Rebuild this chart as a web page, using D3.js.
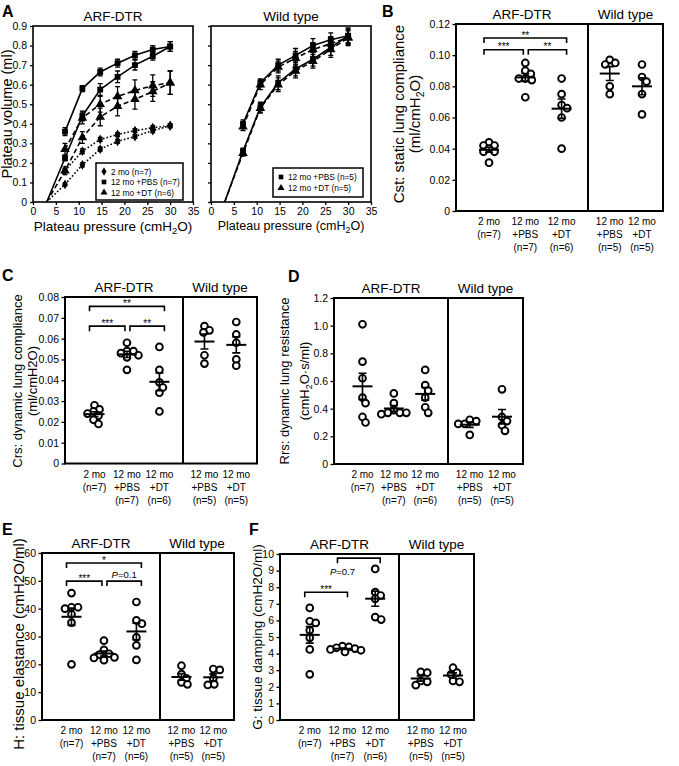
<!DOCTYPE html>
<html><head><meta charset="utf-8">
<script src="https://cdn.jsdelivr.net/npm/d3@7"></script>
<style>
body{margin:0;background:#fff}
svg{display:block}
text{font-family:"Liberation Sans",Arial,Helvetica,sans-serif;fill:#000}
</style>
</head><body>
<svg id="fig" width="679" height="766"></svg>
<script>
// ================= DATA =================
// Panel A: pressure-volume curves
const pvPressure = [7, 10.8, 14.7, 18.5, 22.3, 26.2, 30];
const pvOriginPressure = 3;
const pvTicksX = [0, 5, 10, 15, 20, 25, 30, 35];
const pvTicksY = [0, 0.1, 0.2, 0.3, 0.4, 0.5, 0.6, 0.7, 0.8, 0.9];

const arfMo2Defl     = [0.16, 0.26, 0.32, 0.345, 0.365, 0.38, 0.39];
const arfMo2DeflSem  = [0.01, 0.012, 0.01, 0.01, 0.01, 0.01, 0.01];
const arfMo2Infl     = [0.09, 0.19, 0.27, 0.31, 0.335, 0.365, 0.39];
const arfMo2InflSem  = [0.008, 0.01, 0.01, 0.01, 0.01, 0.01, 0.01];
const arfPbsDefl     = [0.36, 0.58, 0.665, 0.71, 0.75, 0.78, 0.795];
const arfPbsDeflSem  = [0.02, 0.015, 0.02, 0.02, 0.02, 0.02, 0.025];
const arfPbsInfl     = [0.225, 0.44, 0.575, 0.64, 0.70, 0.745, 0.795];
const arfPbsInflSem  = [0.015, 0.025, 0.03, 0.03, 0.025, 0.02, 0.025];
const arfDtDefl      = [0.27, 0.43, 0.50, 0.54, 0.57, 0.595, 0.61];
const arfDtDeflSem   = [0.03, 0.03, 0.04, 0.05, 0.055, 0.055, 0.06];
const arfDtInfl      = [0.16, 0.33, 0.435, 0.49, 0.525, 0.565, 0.61];
const arfDtInflSem   = [0.02, 0.03, 0.045, 0.05, 0.05, 0.05, 0.06];

const wtPbsDefl      = [0.40, 0.61, 0.70, 0.75, 0.80, 0.83, 0.85];
const wtPbsDeflSem   = [0.02, 0.02, 0.03, 0.035, 0.035, 0.035, 0.035];
const wtPbsInfl      = [0.26, 0.485, 0.61, 0.68, 0.73, 0.79, 0.85];
const wtPbsInflSem   = [0.015, 0.025, 0.035, 0.035, 0.035, 0.04, 0.04];
const wtDtDefl       = [0.385, 0.60, 0.69, 0.735, 0.78, 0.81, 0.84];
const wtDtDeflSem    = [0.02, 0.025, 0.03, 0.035, 0.035, 0.035, 0.035];
const wtDtInfl       = [0.25, 0.48, 0.60, 0.67, 0.72, 0.78, 0.84];
const wtDtInflSem    = [0.015, 0.025, 0.035, 0.035, 0.035, 0.04, 0.04];

const arfLegend = ["2 mo (n=7)", "12 mo +PBS (n=7)", "12 mo +DT (n=6)"];
const wtLegend  = ["12 mo +PBS (n=5)", "12 mo +DT (n=5)"];

// Panels B-F: groups
const groupKeys = ["arf2mo", "arfPbs", "arfDt", "wtPbs", "wtDt"];
const groupLabels = [["2 mo", "(n=7)"], ["12 mo", "+PBS", "(n=7)"], ["12 mo", "+DT", "(n=6)"],
                     ["12 mo", "+PBS", "(n=5)"], ["12 mo", "+DT", "(n=5)"]];
const sectionTitles = ["ARF-DTR", "Wild type"];

const cstValues = [
  [0.044, 0.042, 0.042, 0.040, 0.038, 0.038, 0.031],
  [0.095, 0.090, 0.088, 0.085, 0.085, 0.084, 0.073],
  [0.085, 0.075, 0.068, 0.066, 0.060, 0.040],
  [0.097, 0.095, 0.094, 0.080, 0.075],
  [0.094, 0.086, 0.083, 0.075, 0.062]];
const cstTicks = [0, 0.02, 0.04, 0.06, 0.08, 0.10, 0.12];

const crsValues = [
  [0.028, 0.026, 0.025, 0.024, 0.023, 0.021, 0.019],
  [0.058, 0.054, 0.054, 0.053, 0.052, 0.051, 0.045],
  [0.056, 0.045, 0.039, 0.0365, 0.034, 0.025],
  [0.066, 0.064, 0.063, 0.052, 0.048],
  [0.068, 0.062, 0.058, 0.050, 0.047]];
const crsTicks = [0, 0.01, 0.02, 0.03, 0.04, 0.05, 0.06, 0.07, 0.08];

const rrsValues = [
  [1.01, 0.74, 0.62, 0.48, 0.44, 0.34, 0.30],
  [0.51, 0.44, 0.39, 0.37, 0.37, 0.37, 0.36],
  [0.68, 0.57, 0.53, 0.48, 0.41, 0.37],
  [0.32, 0.31, 0.29, 0.29, 0.21],
  [0.54, 0.34, 0.31, 0.28, 0.24]];
const rrsTicks = [0, 0.2, 0.4, 0.6, 0.8, 1.0, 1.2];

const hValues = [
  [45.6, 40.5, 40.5, 40.0, 38.0, 35.0, 20.0],
  [28.5, 25.2, 23.8, 23.5, 22.5, 22.3, 21.5],
  [42.4, 35.8, 34.6, 29.7, 26.8, 21.6],
  [19.5, 16.5, 15.0, 13.5, 12.8],
  [18.3, 18.0, 15.0, 12.8, 12.6]];
const hTicks = [0, 10, 20, 30, 40, 50, 60];

const gValues = [
  [6.75, 5.95, 5.85, 5.4, 4.95, 4.25, 2.75],
  [4.45, 4.4, 4.35, 4.3, 4.25, 4.2, 4.1],
  [9.1, 7.7, 7.5, 7.3, 6.2, 6.05],
  [2.9, 2.85, 2.35, 2.3, 2.1],
  [3.15, 2.85, 2.75, 2.35, 2.3]];
const gTicks = [0, 1, 2, 3, 4, 5, 6, 7, 8, 9, 10];

// significance comparisons: [groupA, groupB, level (y units), label]
const cstSig = [[0, 2, 0.111, "**"], [0, 1, 0.1035, "***"], [1, 2, 0.1035, "**"]];
const crsSig = [[0, 2, 0.0755, "**"], [0, 1, 0.066, "***"], [1, 2, 0.066, "**"]];
const rrsSig = [];
const hSig   = [[0, 2, 56.4, "*"], [0, 1, 49.9, "***"], [1, 2, 49.9, "P=0.1"]];
const gSig   = [[0, 1, 7.7, "***"], [1, 2, 9.75, "P=0.7"]];

// ================= DRAWING =================
const svg = d3.select("#fig");

function rich(sel, str, fs) {
  // "_2" marks a subscript 2
  const parts = str.split("_2");
  parts.forEach((p, i) => {
    if (i > 0) {
      sel.append("tspan").attr("font-size", fs * 0.7).attr("dy", fs * 0.25).text("2");
      sel.append("tspan").attr("dy", -fs * 0.25).text(p);
    } else sel.append("tspan").text(p);
  });
}
function label(x, y, str, fs, opts = {}) {
  const t = svg.append("text").attr("x", x).attr("y", y).attr("font-size", fs)
    .attr("fill", "#000").attr("text-anchor", opts.anchor || "middle");
  if (opts.bold) t.attr("font-weight", "bold");
  if (opts.rotate) t.attr("transform", `rotate(-90,${x},${y})`);
  rich(t, str, fs);
  return t;
}
function styleAxis(g, fs) {
  g.select(".domain").remove();
  g.selectAll(".tick line").attr("stroke", "#000").attr("stroke-width", 1.3);
  g.selectAll(".tick text").attr("font-size", fs).attr("fill", "#000")
    .attr("font-family", '"Liberation Sans",Arial,sans-serif');
}

// ---------- Panel A ----------
const symSquare = d3.symbol().type(d3.symbolSquare).size(34);
const symTri = d3.symbol().type(d3.symbolTriangle).size(40);
const symDiamond = d3.symbol().type(d3.symbolDiamond).size(28);

function drawPV(cfg) {
  const g = svg.append("g");
  const x = d3.scaleLinear().domain([0, 35]).range([cfg.left, cfg.right]);
  const y = d3.scaleLinear().domain([0, 0.9]).range([cfg.bottom, cfg.top]);
  const ax = g.append("g").attr("transform", `translate(0,${cfg.bottom})`)
    .call(d3.axisBottom(x).tickValues(pvTicksX).tickSize(3).tickPadding(3).tickFormat(d3.format("d")));
  styleAxis(ax, 10.5);
  const ay = g.append("g").attr("transform", `translate(${cfg.left},0)`)
    .call(d3.axisLeft(y).tickValues(pvTicksY).tickSize(3).tickPadding(3)
      .tickFormat(cfg.yLabels ? (d => d === 0 ? "0" : d3.format(".1f")(d)) : ""));
  styleAxis(ay, 10.5);

  const line = d3.line().x(d => x(d[0])).y(d => y(d[1]));
  cfg.series.forEach(s => {
    const infl = [[pvOriginPressure, 0]].concat(pvPressure.map((p, i) => [p, s.infl[i]]));
    const defl = pvPressure.map((p, i) => [p, s.defl[i]]);
    [infl, defl].forEach(pts => {
      g.append("path").attr("d", line(pts)).attr("fill", "none").attr("stroke", "#000")
        .attr("stroke-width", 1.6).attr("stroke-dasharray", s.dash);
    });
    [[s.infl, s.inflSem], [s.defl, s.deflSem]].forEach(([vals, sem]) => {
      pvPressure.forEach((p, i) => {
        const cx = x(p), y1 = y(vals[i] + sem[i]), y2 = y(vals[i] - sem[i]);
        g.append("path").attr("d", `M${cx},${y1}V${y2}M${cx - 2.5},${y1}H${cx + 2.5}M${cx - 2.5},${y2}H${cx + 2.5}`)
          .attr("stroke", "#000").attr("stroke-width", 1.3).attr("fill", "none");
      });
      pvPressure.forEach((p, i) => {
        g.append("path").attr("d", s.sym()).attr("transform", `translate(${x(p)},${y(vals[i])})`).attr("fill", "#000");
      });
    });
  });
  g.append("rect").attr("x", cfg.left).attr("y", cfg.top).attr("width", cfg.right - cfg.left)
    .attr("height", cfg.bottom - cfg.top).attr("fill", "none").attr("stroke", "#000").attr("stroke-width", 1.6);

  // legend
  const lg = cfg.legend;
  g.append("rect").attr("x", lg.x).attr("y", lg.y).attr("width", lg.w).attr("height", lg.h)
    .attr("fill", "#fff").attr("stroke", "#000").attr("stroke-width", 1.5);
  cfg.series.forEach((s, i) => {
    const ly = lg.y + lg.pad + i * lg.row;
    g.append("path").attr("d", s.sym.size(22)()).attr("transform", `translate(${lg.x + 8},${ly})`).attr("fill", "#000");
    s.sym.size(s.symSize);
    g.append("text").attr("x", lg.x + 15).attr("y", ly + 3).attr("font-size", 8.3).attr("fill", "#000").text(s.name);
  });

  label((cfg.left + cfg.right) / 2, cfg.top - 5, cfg.title, 13.5);
  label((cfg.left + cfg.right) / 2, cfg.xLabelY, "Plateau pressure (cmH_2O)", cfg.xLabelFs);
}

drawPV({
  left: 33, right: 193, top: 26, bottom: 202, yLabels: true, title: "ARF-DTR",
  xLabelY: 231, xLabelFs: 13.5,
  legend: { x: 96, y: 163, w: 87, h: 37, pad: 8.5, row: 10.5 },
  series: [
    { name: arfLegend[0], infl: arfMo2Infl, inflSem: arfMo2InflSem, defl: arfMo2Defl, deflSem: arfMo2DeflSem, dash: "1.6,2", sym: symDiamond, symSize: 28 },
    { name: arfLegend[1], infl: arfPbsInfl, inflSem: arfPbsInflSem, defl: arfPbsDefl, deflSem: arfPbsDeflSem, dash: null, sym: symSquare, symSize: 34 },
    { name: arfLegend[2], infl: arfDtInfl, inflSem: arfDtInflSem, defl: arfDtDefl, deflSem: arfDtDeflSem, dash: "5,3", sym: symTri, symSize: 40 }
  ]
});
drawPV({
  left: 211, right: 371, top: 26, bottom: 202, yLabels: false, title: "Wild type",
  xLabelY: 230, xLabelFs: 12.5,
  legend: { x: 273, y: 168, w: 90, h: 29, pad: 9, row: 11 },
  series: [
    { name: wtLegend[0], infl: wtPbsInfl, inflSem: wtPbsInflSem, defl: wtPbsDefl, deflSem: wtPbsDeflSem, dash: null, sym: symSquare, symSize: 34 },
    { name: wtLegend[1], infl: wtDtInfl, inflSem: wtDtInflSem, defl: wtDtDefl, deflSem: wtDtDeflSem, dash: "5,3", sym: symTri, symSize: 40 }
  ]
});
label(12, 114, "Plateau volume (ml)", 14.5, { rotate: true });
label(2, 17, "A", 16, { anchor: "start", bold: true });

// ---------- Dot plot panels ----------
function swarm(vals, y, cx, minDist) {
  const placed = [];
  vals.slice().sort((a, b) => b - a).forEach(v => {
    const py = y(v);
    let best = 0;
    for (let k = 0; k < 120; k++) {
      const off = (k % 2 === 1 ? 1 : -1) * Math.ceil(k / 2) * 0.5;
      if (placed.every(p => Math.hypot(p.x - (cx + off), p.y - py) >= minDist)) { best = off; break; }
    }
    placed.push({ x: cx + best, y: py });
  });
  return placed;
}

function drawDot(cfg) {
  const { left, right, div, top, bottom } = cfg.box;
  const g = svg.append("g");
  const y = d3.scaleLinear().domain([0, cfg.ticks[cfg.ticks.length - 1]]).range([bottom, top]);
  const w1 = div - left, w2 = right - div;
  const x1 = d3.scalePoint().domain(groupKeys.slice(0, 3)).range([left + 0.25 * w1, div - 0.2 * w1]);
  const x2 = d3.scalePoint().domain(groupKeys.slice(3)).range([div + 0.29 * w2, right - 0.28 * w2]);
  const xOf = k => k < 3 ? x1(groupKeys[k]) : x2(groupKeys[k]);

  const ay = g.append("g").attr("transform", `translate(${left},0)`)
    .call(d3.axisLeft(y).tickValues(cfg.ticks).tickSize(3.5).tickPadding(2.5).tickFormat(cfg.fmt));
  styleAxis(ay, 10.5);

  // points
  cfg.values.forEach((vals, k) => {
    const pts = swarm(vals, y, xOf(k), 6.2);
    g.selectAll(null).data(pts).enter().append("circle")
      .attr("cx", d => d.x).attr("cy", d => d.y).attr("r", 3.4)
      .attr("fill", "#fff").attr("stroke", "#000").attr("stroke-width", 1.9);
  });
  // mean and SEM
  cfg.values.forEach((vals, k) => {
    const m = d3.mean(vals), se = d3.deviation(vals) / Math.sqrt(vals.length);
    const cx = xOf(k), ym = y(m), yt = y(m + se), yb = y(m - se);
    g.append("path").attr("d", `M${cx - 10},${ym}H${cx + 10}`).attr("stroke", "#000").attr("stroke-width", 2);
    g.append("path").attr("d", `M${cx},${yt}V${yb}M${cx - 4},${yt}H${cx + 4}M${cx - 4},${yb}H${cx + 4}`)
      .attr("stroke", "#000").attr("stroke-width", 1.6).attr("fill", "none");
  });
  // box & divider
  g.append("rect").attr("x", left).attr("y", top).attr("width", right - left).attr("height", bottom - top)
    .attr("fill", "none").attr("stroke", "#000").attr("stroke-width", 2);
  g.append("line").attr("x1", div).attr("x2", div).attr("y1", top).attr("y2", bottom)
    .attr("stroke", "#000").attr("stroke-width", 2);

  // significance brackets
  cfg.sig.forEach(([a, b, lv, txt]) => {
    const sharedL = cfg.sig.some(s => s[2] === lv && s[1] === a);
    const sharedR = cfg.sig.some(s => s[2] === lv && s[0] === b);
    const xa = xOf(a) + (sharedL ? 3 : -5), xb = xOf(b) + (sharedR ? -2 : 5);
    const ly = y(lv);
    g.append("path").attr("d", `M${xa},${ly + 5}V${ly}H${xb}V${ly + 5}`)
      .attr("fill", "none").attr("stroke", "#000").attr("stroke-width", 1.6);
    const isP = txt.startsWith("P");
    const below = cfg.pBelow && isP;
    const t = g.append("text").attr("text-anchor", "middle").attr("font-size", isP ? 9.5 : 10)
      .attr("fill", "#000")
      .attr("x", below ? xa + 5 : (xa + xb) / 2).attr("y", below ? ly + 17 : ly - (isP ? 3 : -0.5));
    if (isP) {
      t.append("tspan").attr("font-style", "italic").text("P");
      t.append("tspan").text(txt.slice(1));
    } else t.text(txt);
  });

  // category labels
  groupLabels.forEach((lines, k) => {
    lines.forEach((s, j) => {
      g.append("text").attr("x", xOf(k)).attr("y", bottom + 14 + j * 13).attr("text-anchor", "middle")
        .attr("font-size", 10).attr("fill", "#000").text(s);
    });
  });
  // titles
  label((left + div) / 2, top - 5, sectionTitles[0], 13.5);
  label((div + right) / 2, top - 5, sectionTitles[1], 13.5);
  // y labels
  cfg.yLabel.forEach((s, j) => label(cfg.yLabelX[j], cfg.yLabelCy, s, cfg.yLabelFs, { rotate: true }));
  label(cfg.letter[0], cfg.letter[1], cfg.letter[2], 16, { anchor: "start", bold: true });
}

const fmt2 = d => d === 0 ? "0" : d3.format(".2f")(d);
const fmt1 = d => d === 0 ? "0" : d3.format(".1f")(d);
const fmt0 = d3.format("d");

drawDot({ box: { left: 456, right: 663, div: 588, top: 24, bottom: 211 }, ticks: cstTicks, fmt: fmt2,
  values: cstValues, sig: cstSig, yLabel: ["Cst: static lung compliance", "(ml/cmH_2O)"],
  yLabelX: [404, 420], yLabelCy: 114, yLabelFs: 15, letter: [382, 17, "B"] });
drawDot({ box: { left: 65, right: 257, div: 183, top: 297, bottom: 463.5 }, ticks: crsTicks, fmt: fmt2,
  values: crsValues, sig: crsSig, yLabel: ["Crs: dynamic lung compliance", "(ml/cmH2O)"],
  yLabelX: [22, 37], yLabelCy: 381, yLabelFs: 13, letter: [2, 281, "C"] });
drawDot({ box: { left: 334, right: 523, div: 448, top: 298, bottom: 464 }, ticks: rrsTicks, fmt: fmt1,
  values: rrsValues, sig: rrsSig, yLabel: ["Rrs: dynamic lung resistance", "(cmH_2O·s/ml)"],
  yLabelX: [289, 309], yLabelCy: 381, yLabelFs: 13, letter: [288, 282, "D"] });
drawDot({ box: { left: 42, right: 234, div: 160, top: 553, bottom: 720 }, ticks: hTicks, fmt: fmt0,
  values: hValues, sig: hSig, yLabel: ["H: tissue elastance (cmH2O/ml)"],
  yLabelX: [24], yLabelCy: 644, yLabelFs: 15, letter: [2, 535, "E"] });
drawDot({ box: { left: 280, right: 474, div: 399, top: 554, bottom: 720 }, ticks: gTicks, fmt: fmt0,
  values: gValues, sig: gSig, pBelow: true, yLabel: ["G: tissue damping (cmH2O/ml)"],
  yLabelX: [262], yLabelCy: 637, yLabelFs: 13.5, letter: [249, 535, "F"] });
</script>
</body></html>
